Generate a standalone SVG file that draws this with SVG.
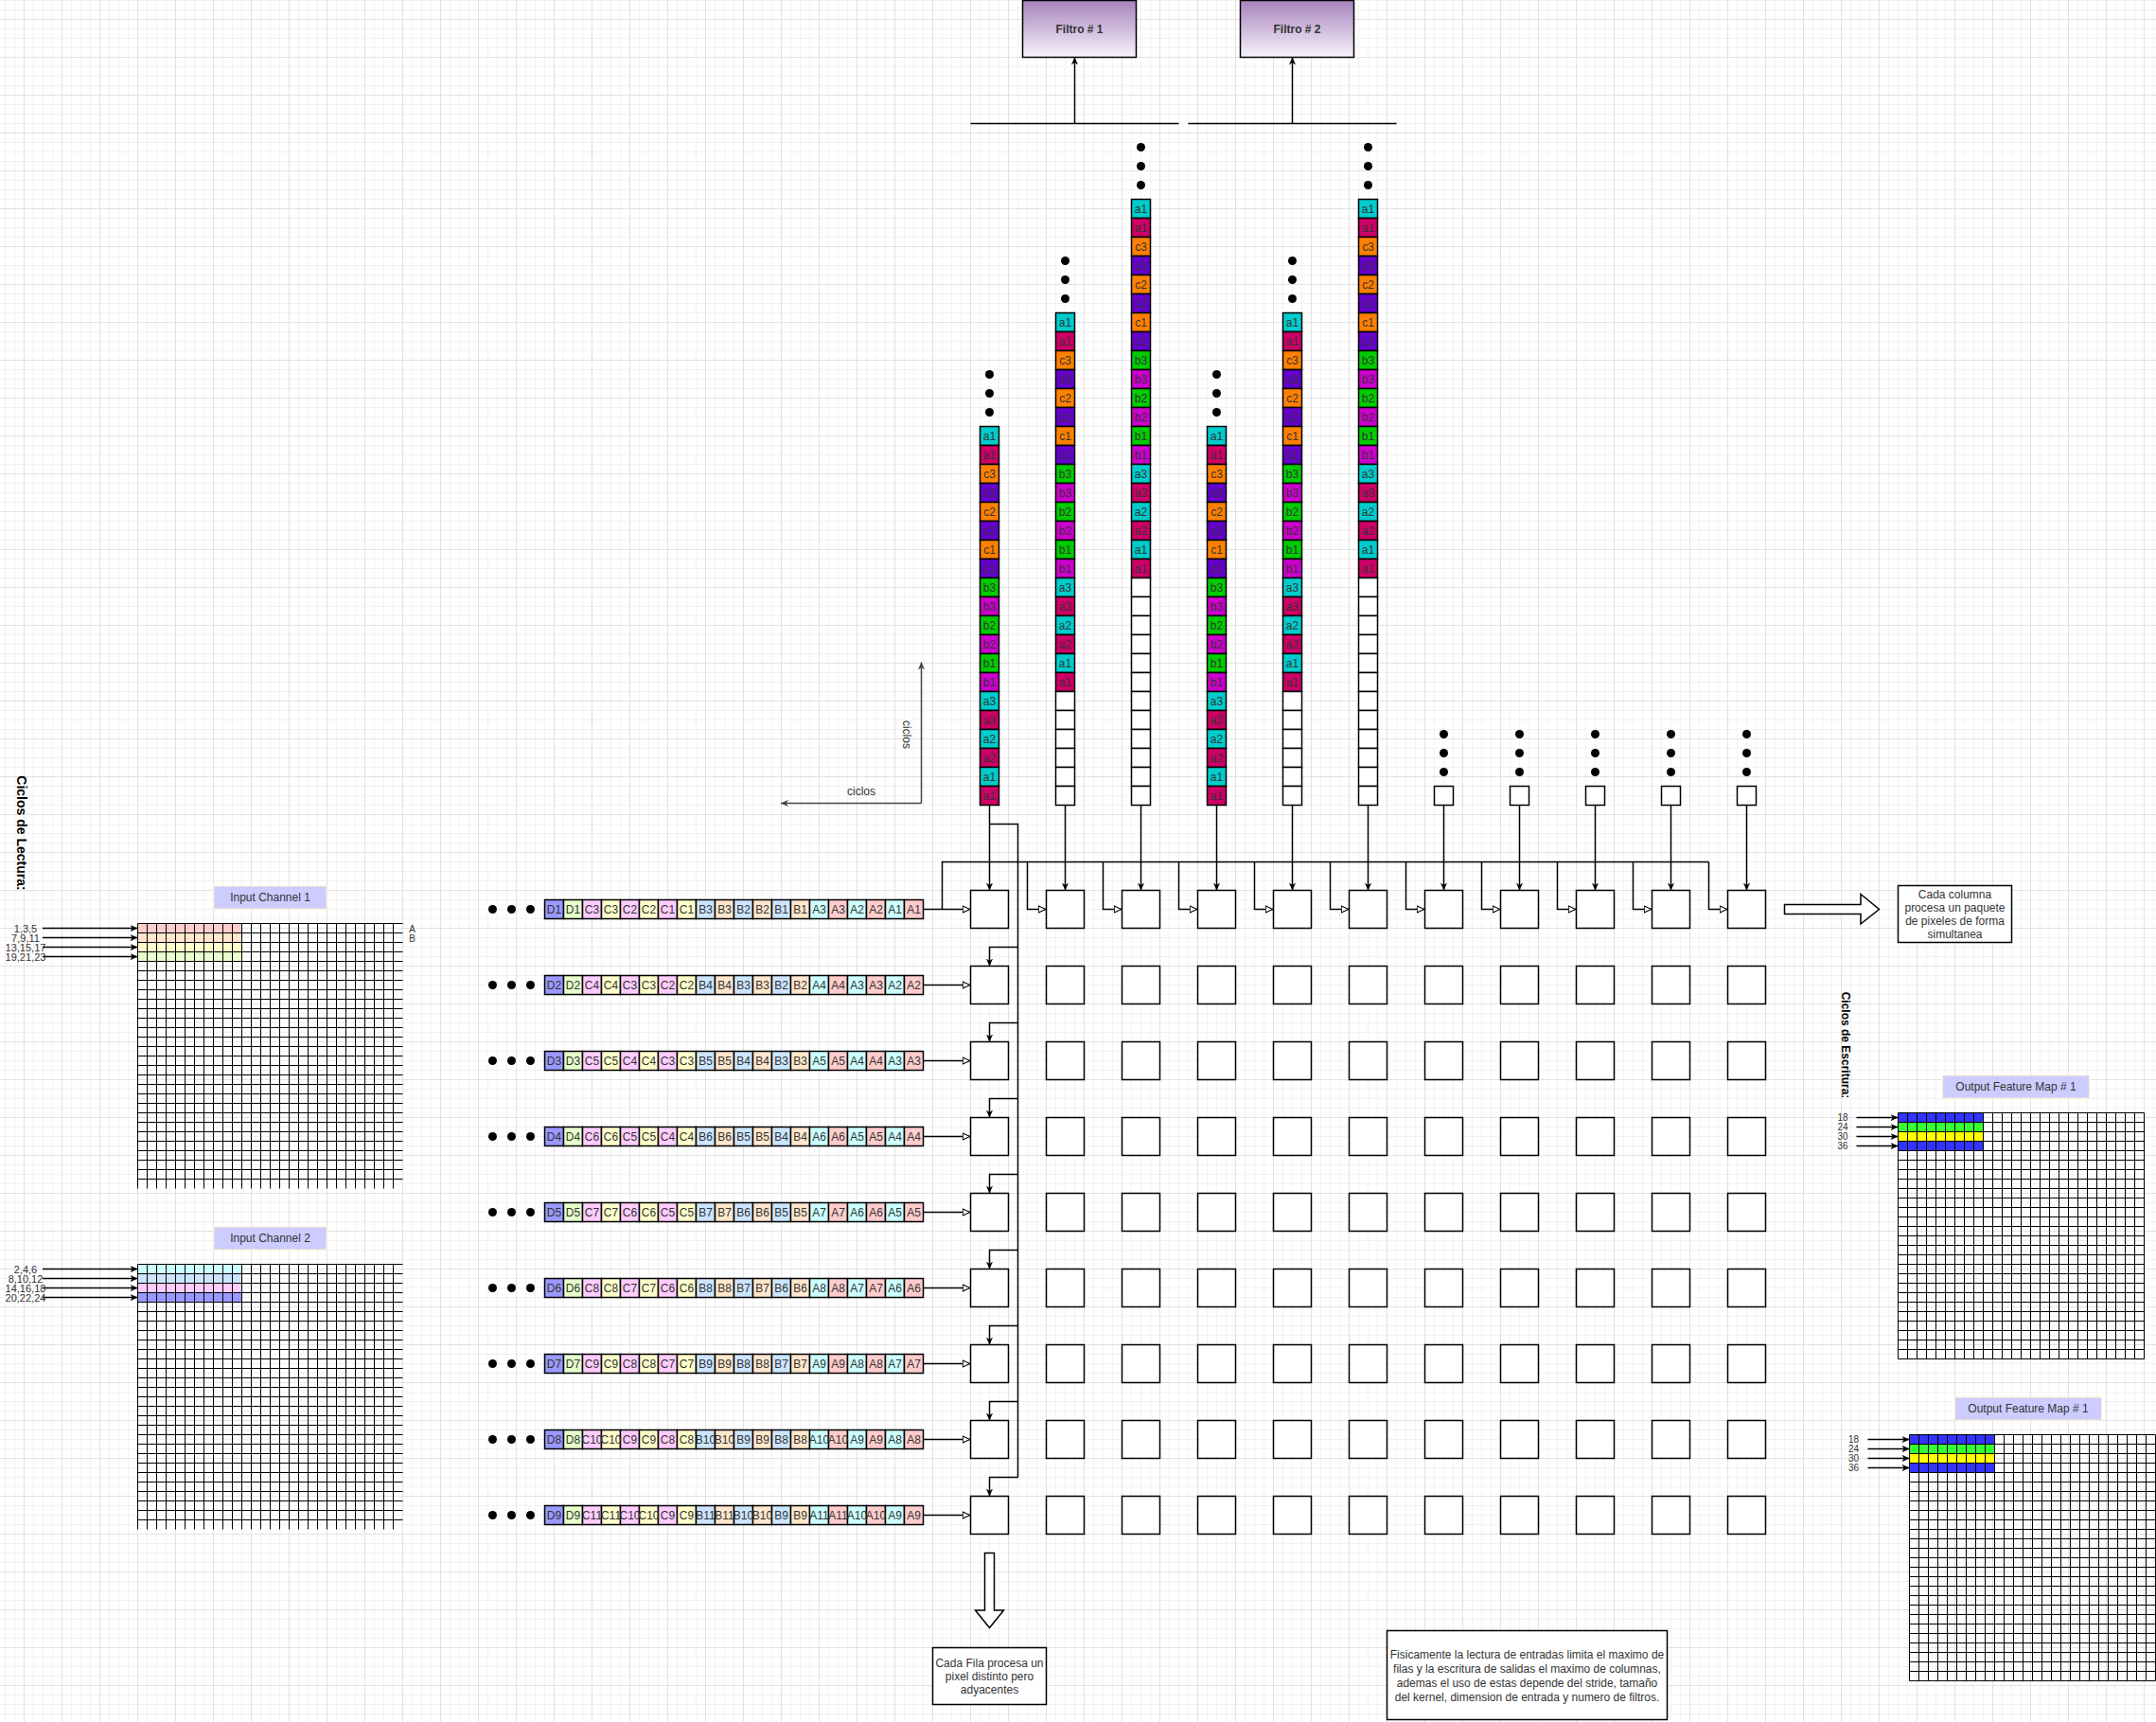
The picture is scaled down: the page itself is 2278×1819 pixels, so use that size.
<svg xmlns="http://www.w3.org/2000/svg" width="2278" height="1819" viewBox="0 0 2278 1819">
<style>
.t{font-family:"Liberation Sans",Arial,Helvetica,sans-serif;fill:#333333;stroke:none}
.c{font-size:12px;text-anchor:middle}
.s11{font-size:11px;text-anchor:middle}
.s10{font-size:10px;text-anchor:middle}
.b{font-weight:bold}
.sk{stroke:#000;stroke-width:1.5}
.pe{fill:#fff;stroke:#000;stroke-width:1.5}
.box{fill:#fff;stroke:#000;stroke-width:1.5}
.ln{fill:none;stroke:#000;stroke-width:1.5}
.gl{fill:none;stroke:#000;stroke-width:1}
.lbl{fill:#CCCCFF;stroke:#FFF2CC;stroke-width:1}
.cy{fill:#00CCCC}.rd{fill:#CC0066}.or{fill:#FF8000}.pu{fill:#6600CC}.gr{fill:#00CC00}.mg{fill:#CC00CC}
.rD{fill:#9999FF}.rG{fill:#E6FFCC}.rP{fill:#FFCCFF}.rY{fill:#FFFFCC}.rB{fill:#CCE5FF}.rO{fill:#FFE6CC}.rC{fill:#CCFFFF}.rR{fill:#FFCCCC}
</style>
<defs>
<pattern id="bg" width="40" height="40" patternUnits="userSpaceOnUse" x="25" y="20">
<path d="M10.5 0V40M20.5 0V40M30.5 0V40M0 10.5H40M0 20.5H40M0 30.5H40" stroke="#f2f2f2" stroke-width="1" fill="none"/>
<path d="M0.5 0V40M0 0.5H40" stroke="#e2e2e2" stroke-width="1" fill="none"/>
</pattern>
<linearGradient id="fg" x1="0" y1="0" x2="0" y2="1">
<stop offset="0" stop-color="#A682BE"/>
<stop offset="1" stop-color="#F8F4FA"/>
</linearGradient>
<marker id="ac" viewBox="0 0 10 10" refX="10" refY="5" markerWidth="8" markerHeight="8" markerUnits="userSpaceOnUse" orient="auto"><path d="M0 0.5L10 5L0 9.5L3 5Z" fill="#000"/></marker>
<marker id="ag" viewBox="0 0 10 10" refX="10" refY="5" markerWidth="8" markerHeight="8" markerUnits="userSpaceOnUse" orient="auto"><path d="M0 0.5L10 5L0 9.5L3 5Z" fill="#444"/></marker>
<marker id="ao" viewBox="0 0 10 10" refX="10" refY="5" markerWidth="9" markerHeight="9" markerUnits="userSpaceOnUse" orient="auto"><path d="M0.8 1L9.3 5L0.8 9Z" fill="#fff" stroke="#000" stroke-width="1.2"/></marker>
<g id="dots3"><circle cx="10" cy="-55" r="4.5"/><circle cx="10" cy="-35" r="4.5"/><circle cx="10" cy="-15" r="4.5"/></g>
<g id="seq">
<g class="sk">
<rect y="0" width="20" height="20" class="cy"/><rect y="20" width="20" height="20" class="rd"/>
<rect y="40" width="20" height="20" class="or"/><rect y="60" width="20" height="20" class="pu"/>
<rect y="80" width="20" height="20" class="or"/><rect y="100" width="20" height="20" class="pu"/>
<rect y="120" width="20" height="20" class="or"/><rect y="140" width="20" height="20" class="pu"/>
<rect y="160" width="20" height="20" class="gr"/><rect y="180" width="20" height="20" class="mg"/>
<rect y="200" width="20" height="20" class="gr"/><rect y="220" width="20" height="20" class="mg"/>
<rect y="240" width="20" height="20" class="gr"/><rect y="260" width="20" height="20" class="mg"/>
<rect y="280" width="20" height="20" class="cy"/><rect y="300" width="20" height="20" class="rd"/>
<rect y="320" width="20" height="20" class="cy"/><rect y="340" width="20" height="20" class="rd"/>
<rect y="360" width="20" height="20" class="cy"/><rect y="380" width="20" height="20" class="rd"/>
</g>
<text class="t c"><tspan x="10" y="14">a1</tspan><tspan x="10" y="34">a1</tspan><tspan x="10" y="54">c3</tspan><tspan x="10" y="74">c3</tspan><tspan x="10" y="94">c2</tspan><tspan x="10" y="114">c2</tspan><tspan x="10" y="134">c1</tspan><tspan x="10" y="154">c1</tspan><tspan x="10" y="174">b3</tspan><tspan x="10" y="194">b3</tspan><tspan x="10" y="214">b2</tspan><tspan x="10" y="234">b2</tspan><tspan x="10" y="254">b1</tspan><tspan x="10" y="274">b1</tspan><tspan x="10" y="294">a3</tspan><tspan x="10" y="314">a3</tspan><tspan x="10" y="334">a2</tspan><tspan x="10" y="354">a2</tspan><tspan x="10" y="374">a1</tspan><tspan x="10" y="394">a1</tspan></text>
</g>
<g id="e6" class="box"><rect y="0" width="20" height="20"/><rect y="20" width="20" height="20"/><rect y="40" width="20" height="20"/><rect y="60" width="20" height="20"/><rect y="80" width="20" height="20"/><rect y="100" width="20" height="20"/></g>
<g id="rowbg">
<circle cx="520.5" cy="10" r="4.5"/><circle cx="540.5" cy="10" r="4.5"/><circle cx="560.5" cy="10" r="4.5"/>
<g class="sk">
<rect x="575.5" width="20" height="20" class="rD"/><rect x="595.5" width="20" height="20" class="rG"/>
<rect x="615.5" width="20" height="20" class="rP"/><rect x="635.5" width="20" height="20" class="rY"/>
<rect x="655.5" width="20" height="20" class="rP"/><rect x="675.5" width="20" height="20" class="rY"/>
<rect x="695.5" width="20" height="20" class="rP"/><rect x="715.5" width="20" height="20" class="rY"/>
<rect x="735.5" width="20" height="20" class="rB"/><rect x="755.5" width="20" height="20" class="rO"/>
<rect x="775.5" width="20" height="20" class="rB"/><rect x="795.5" width="20" height="20" class="rO"/>
<rect x="815.5" width="20" height="20" class="rB"/><rect x="835.5" width="20" height="20" class="rO"/>
<rect x="855.5" width="20" height="20" class="rC"/><rect x="875.5" width="20" height="20" class="rR"/>
<rect x="895.5" width="20" height="20" class="rC"/><rect x="915.5" width="20" height="20" class="rR"/>
<rect x="935.5" width="20" height="20" class="rC"/><rect x="955.5" width="20" height="20" class="rR"/>
</g>
</g>
<g id="perow" class="pe">
<rect x="1025.5" width="40" height="40"/><rect x="1105.5" width="40" height="40"/><rect x="1185.5" width="40" height="40"/><rect x="1265.5" width="40" height="40"/><rect x="1345.5" width="40" height="40"/><rect x="1425.5" width="40" height="40"/><rect x="1505.5" width="40" height="40"/><rect x="1585.5" width="40" height="40"/><rect x="1665.5" width="40" height="40"/><rect x="1745.5" width="40" height="40"/><rect x="1825.5" width="40" height="40"/>
</g>
<path id="g28" class="gl" d="M0.5 0.5v280m10-280v280m10-280v280m10-280v280m10-280v280m10-280v280m10-280v280m10-280v280m10-280v280m10-280v280m10-280v280m10-280v280m10-280v280m10-280v280m10-280v280m10-280v280m10-280v280m10-280v280m10-280v280m10-280v280m10-280v280m10-280v280m10-280v280m10-280v280m10-280v280m10-280v280m10-280v280m10-280v280M0.5 0.5h280m-280 10h280m-280 10h280m-280 10h280m-280 10h280m-280 10h280m-280 10h280m-280 10h280m-280 10h280m-280 10h280m-280 10h280m-280 10h280m-280 10h280m-280 10h280m-280 10h280m-280 10h280m-280 10h280m-280 10h280m-280 10h280m-280 10h280m-280 10h280m-280 10h280m-280 10h280m-280 10h280m-280 10h280m-280 10h280m-280 10h280m-280 10h280"/>
<path id="g26" class="gl" d="M0.5 0.5v260m10-260v260m10-260v260m10-260v260m10-260v260m10-260v260m10-260v260m10-260v260m10-260v260m10-260v260m10-260v260m10-260v260m10-260v260m10-260v260m10-260v260m10-260v260m10-260v260m10-260v260m10-260v260m10-260v260m10-260v260m10-260v260m10-260v260m10-260v260m10-260v260m10-260v260m10-260v260M0.5 0.5h260m-260 10h260m-260 10h260m-260 10h260m-260 10h260m-260 10h260m-260 10h260m-260 10h260m-260 10h260m-260 10h260m-260 10h260m-260 10h260m-260 10h260m-260 10h260m-260 10h260m-260 10h260m-260 10h260m-260 10h260m-260 10h260m-260 10h260m-260 10h260m-260 10h260m-260 10h260m-260 10h260m-260 10h260m-260 10h260m-260 10h260"/>
</defs>

<rect width="2278" height="1819" fill="#ffffff"/>
<rect width="2278" height="1819" fill="url(#bg)"/>

<g id="filtro-1">
<rect x="1080.5" y="0.5" width="120" height="60" fill="url(#fg)" stroke="#000" stroke-width="1.5"/>
<text class="t c b" x="1140.5" y="35">Filtro # 1</text>
</g>
<g id="filtro-2">
<rect x="1310.5" y="0.5" width="120" height="60" fill="url(#fg)" stroke="#000" stroke-width="1.5"/>
<text class="t c b" x="1370.5" y="35">Filtro # 2</text>
</g>

<g id="stack-1" transform="translate(1035.5,450.5)"><use href="#dots3"/><use href="#seq"/></g>
<g id="stack-2" transform="translate(1115.5,330.5)"><use href="#dots3"/><use href="#seq"/><use href="#e6" y="400"/></g>
<g id="stack-3" transform="translate(1195.5,210.5)"><use href="#dots3"/><use href="#seq"/><use href="#e6" y="400"/><use href="#e6" y="520"/></g>
<g id="stack-4" transform="translate(1275.5,450.5)"><use href="#dots3"/><use href="#seq"/></g>
<g id="stack-5" transform="translate(1355.5,330.5)"><use href="#dots3"/><use href="#seq"/><use href="#e6" y="400"/></g>
<g id="stack-6" transform="translate(1435.5,210.5)"><use href="#dots3"/><use href="#seq"/><use href="#e6" y="400"/><use href="#e6" y="520"/></g>
<g id="stack-7" transform="translate(1515.5,830.5)"><use href="#dots3"/><rect class="box" width="20" height="20"/></g>
<g id="stack-8" transform="translate(1595.5,830.5)"><use href="#dots3"/><rect class="box" width="20" height="20"/></g>
<g id="stack-9" transform="translate(1675.5,830.5)"><use href="#dots3"/><rect class="box" width="20" height="20"/></g>
<g id="stack-10" transform="translate(1755.5,830.5)"><use href="#dots3"/><rect class="box" width="20" height="20"/></g>
<g id="stack-11" transform="translate(1835.5,830.5)"><use href="#dots3"/><rect class="box" width="20" height="20"/></g>

<g id="connectors" class="ln">
<path d="M1025.5 130.5H1245.5M1255.5 130.5H1475.5"/>
<path d="M1135.5 130.5V60.5" marker-end="url(#ac)"/>
<path d="M1365.5 130.5V60.5" marker-end="url(#ac)"/>
<path d="M1045.5 850.5V940.5" marker-end="url(#ac)"/>
<path d="M1125.5 850.5V940.5" marker-end="url(#ac)"/>
<path d="M1205.5 850.5V940.5" marker-end="url(#ac)"/>
<path d="M1285.5 850.5V940.5" marker-end="url(#ac)"/>
<path d="M1365.5 850.5V940.5" marker-end="url(#ac)"/>
<path d="M1445.5 850.5V940.5" marker-end="url(#ac)"/>
<path d="M1525.5 850.5V940.5" marker-end="url(#ac)"/>
<path d="M1605.5 850.5V940.5" marker-end="url(#ac)"/>
<path d="M1685.5 850.5V940.5" marker-end="url(#ac)"/>
<path d="M1765.5 850.5V940.5" marker-end="url(#ac)"/>
<path d="M1845.5 850.5V940.5" marker-end="url(#ac)"/>
<path d="M1045.5 870.5H1075.5V1560.5"/>
<path d="M1075.5 1000.5H1045.5V1020.5" marker-end="url(#ac)"/>
<path d="M1075.5 1080.5H1045.5V1100.5" marker-end="url(#ac)"/>
<path d="M1075.5 1160.5H1045.5V1180.5" marker-end="url(#ac)"/>
<path d="M1075.5 1240.5H1045.5V1260.5" marker-end="url(#ac)"/>
<path d="M1075.5 1320.5H1045.5V1340.5" marker-end="url(#ac)"/>
<path d="M1075.5 1400.5H1045.5V1420.5" marker-end="url(#ac)"/>
<path d="M1075.5 1480.5H1045.5V1500.5" marker-end="url(#ac)"/>
<path d="M1075.5 1560.5H1045.5V1580.5" marker-end="url(#ac)"/>
<path d="M975.5 960.5H1025.5" marker-end="url(#ao)"/>
<path d="M975.5 1040.5H1025.5" marker-end="url(#ao)"/>
<path d="M975.5 1120.5H1025.5" marker-end="url(#ao)"/>
<path d="M975.5 1200.5H1025.5" marker-end="url(#ao)"/>
<path d="M975.5 1280.5H1025.5" marker-end="url(#ao)"/>
<path d="M975.5 1360.5H1025.5" marker-end="url(#ao)"/>
<path d="M975.5 1440.5H1025.5" marker-end="url(#ao)"/>
<path d="M975.5 1520.5H1025.5" marker-end="url(#ao)"/>
<path d="M975.5 1600.5H1025.5" marker-end="url(#ao)"/>
<path d="M995.5 960.5V910.5H1805.5"/>
<path d="M1085.5 910.5V960.5H1105.5" marker-end="url(#ao)"/>
<path d="M1165.5 910.5V960.5H1185.5" marker-end="url(#ao)"/>
<path d="M1245.5 910.5V960.5H1265.5" marker-end="url(#ao)"/>
<path d="M1325.5 910.5V960.5H1345.5" marker-end="url(#ao)"/>
<path d="M1405.5 910.5V960.5H1425.5" marker-end="url(#ao)"/>
<path d="M1485.5 910.5V960.5H1505.5" marker-end="url(#ao)"/>
<path d="M1565.5 910.5V960.5H1585.5" marker-end="url(#ao)"/>
<path d="M1645.5 910.5V960.5H1665.5" marker-end="url(#ao)"/>
<path d="M1725.5 910.5V960.5H1745.5" marker-end="url(#ao)"/>
<path d="M1805.5 910.5V960.5H1825.5" marker-end="url(#ao)"/>
<path d="M973.5 848.5V699.5" stroke="#444" marker-end="url(#ag)"/>
<path d="M973.5 848.5H825" stroke="#444" marker-end="url(#ag)"/>
<path d="M45 980.5H145.5" marker-end="url(#ac)"/>
<path d="M45 990.5H145.5" marker-end="url(#ac)"/>
<path d="M45 1000.5H145.5" marker-end="url(#ac)"/>
<path d="M45 1010.5H145.5" marker-end="url(#ac)"/>
<path d="M45 1340.5H145.5" marker-end="url(#ac)"/>
<path d="M45 1350.5H145.5" marker-end="url(#ac)"/>
<path d="M45 1360.5H145.5" marker-end="url(#ac)"/>
<path d="M45 1370.5H145.5" marker-end="url(#ac)"/>
<path d="M1961.5 1180.5H2005.5" marker-end="url(#ac)"/>
<path d="M1961.5 1190.5H2005.5" marker-end="url(#ac)"/>
<path d="M1961.5 1200.5H2005.5" marker-end="url(#ac)"/>
<path d="M1961.5 1210.5H2005.5" marker-end="url(#ac)"/>
<path d="M1973.5 1520.5H2017.5" marker-end="url(#ac)"/>
<path d="M1973.5 1530.5H2017.5" marker-end="url(#ac)"/>
<path d="M1973.5 1540.5H2017.5" marker-end="url(#ac)"/>
<path d="M1973.5 1550.5H2017.5" marker-end="url(#ac)"/>
</g>

<text class="t c" x="910" y="840">ciclos</text>
<text class="t c" transform="translate(958,776) rotate(90)" y="4">ciclos</text>

<g id="row-1" transform="translate(0,950.5)"><use href="#rowbg"/><text class="t c" y="14"><tspan x="585.5">D1</tspan><tspan x="605.5">D1</tspan><tspan x="625.5">C3</tspan><tspan x="645.5">C3</tspan><tspan x="665.5">C2</tspan><tspan x="685.5">C2</tspan><tspan x="705.5">C1</tspan><tspan x="725.5">C1</tspan><tspan x="745.5">B3</tspan><tspan x="765.5">B3</tspan><tspan x="785.5">B2</tspan><tspan x="805.5">B2</tspan><tspan x="825.5">B1</tspan><tspan x="845.5">B1</tspan><tspan x="865.5">A3</tspan><tspan x="885.5">A3</tspan><tspan x="905.5">A2</tspan><tspan x="925.5">A2</tspan><tspan x="945.5">A1</tspan><tspan x="965.5">A1</tspan></text></g>
<g id="row-2" transform="translate(0,1030.5)"><use href="#rowbg"/><text class="t c" y="14"><tspan x="585.5">D2</tspan><tspan x="605.5">D2</tspan><tspan x="625.5">C4</tspan><tspan x="645.5">C4</tspan><tspan x="665.5">C3</tspan><tspan x="685.5">C3</tspan><tspan x="705.5">C2</tspan><tspan x="725.5">C2</tspan><tspan x="745.5">B4</tspan><tspan x="765.5">B4</tspan><tspan x="785.5">B3</tspan><tspan x="805.5">B3</tspan><tspan x="825.5">B2</tspan><tspan x="845.5">B2</tspan><tspan x="865.5">A4</tspan><tspan x="885.5">A4</tspan><tspan x="905.5">A3</tspan><tspan x="925.5">A3</tspan><tspan x="945.5">A2</tspan><tspan x="965.5">A2</tspan></text></g>
<g id="row-3" transform="translate(0,1110.5)"><use href="#rowbg"/><text class="t c" y="14"><tspan x="585.5">D3</tspan><tspan x="605.5">D3</tspan><tspan x="625.5">C5</tspan><tspan x="645.5">C5</tspan><tspan x="665.5">C4</tspan><tspan x="685.5">C4</tspan><tspan x="705.5">C3</tspan><tspan x="725.5">C3</tspan><tspan x="745.5">B5</tspan><tspan x="765.5">B5</tspan><tspan x="785.5">B4</tspan><tspan x="805.5">B4</tspan><tspan x="825.5">B3</tspan><tspan x="845.5">B3</tspan><tspan x="865.5">A5</tspan><tspan x="885.5">A5</tspan><tspan x="905.5">A4</tspan><tspan x="925.5">A4</tspan><tspan x="945.5">A3</tspan><tspan x="965.5">A3</tspan></text></g>
<g id="row-4" transform="translate(0,1190.5)"><use href="#rowbg"/><text class="t c" y="14"><tspan x="585.5">D4</tspan><tspan x="605.5">D4</tspan><tspan x="625.5">C6</tspan><tspan x="645.5">C6</tspan><tspan x="665.5">C5</tspan><tspan x="685.5">C5</tspan><tspan x="705.5">C4</tspan><tspan x="725.5">C4</tspan><tspan x="745.5">B6</tspan><tspan x="765.5">B6</tspan><tspan x="785.5">B5</tspan><tspan x="805.5">B5</tspan><tspan x="825.5">B4</tspan><tspan x="845.5">B4</tspan><tspan x="865.5">A6</tspan><tspan x="885.5">A6</tspan><tspan x="905.5">A5</tspan><tspan x="925.5">A5</tspan><tspan x="945.5">A4</tspan><tspan x="965.5">A4</tspan></text></g>
<g id="row-5" transform="translate(0,1270.5)"><use href="#rowbg"/><text class="t c" y="14"><tspan x="585.5">D5</tspan><tspan x="605.5">D5</tspan><tspan x="625.5">C7</tspan><tspan x="645.5">C7</tspan><tspan x="665.5">C6</tspan><tspan x="685.5">C6</tspan><tspan x="705.5">C5</tspan><tspan x="725.5">C5</tspan><tspan x="745.5">B7</tspan><tspan x="765.5">B7</tspan><tspan x="785.5">B6</tspan><tspan x="805.5">B6</tspan><tspan x="825.5">B5</tspan><tspan x="845.5">B5</tspan><tspan x="865.5">A7</tspan><tspan x="885.5">A7</tspan><tspan x="905.5">A6</tspan><tspan x="925.5">A6</tspan><tspan x="945.5">A5</tspan><tspan x="965.5">A5</tspan></text></g>
<g id="row-6" transform="translate(0,1350.5)"><use href="#rowbg"/><text class="t c" y="14"><tspan x="585.5">D6</tspan><tspan x="605.5">D6</tspan><tspan x="625.5">C8</tspan><tspan x="645.5">C8</tspan><tspan x="665.5">C7</tspan><tspan x="685.5">C7</tspan><tspan x="705.5">C6</tspan><tspan x="725.5">C6</tspan><tspan x="745.5">B8</tspan><tspan x="765.5">B8</tspan><tspan x="785.5">B7</tspan><tspan x="805.5">B7</tspan><tspan x="825.5">B6</tspan><tspan x="845.5">B6</tspan><tspan x="865.5">A8</tspan><tspan x="885.5">A8</tspan><tspan x="905.5">A7</tspan><tspan x="925.5">A7</tspan><tspan x="945.5">A6</tspan><tspan x="965.5">A6</tspan></text></g>
<g id="row-7" transform="translate(0,1430.5)"><use href="#rowbg"/><text class="t c" y="14"><tspan x="585.5">D7</tspan><tspan x="605.5">D7</tspan><tspan x="625.5">C9</tspan><tspan x="645.5">C9</tspan><tspan x="665.5">C8</tspan><tspan x="685.5">C8</tspan><tspan x="705.5">C7</tspan><tspan x="725.5">C7</tspan><tspan x="745.5">B9</tspan><tspan x="765.5">B9</tspan><tspan x="785.5">B8</tspan><tspan x="805.5">B8</tspan><tspan x="825.5">B7</tspan><tspan x="845.5">B7</tspan><tspan x="865.5">A9</tspan><tspan x="885.5">A9</tspan><tspan x="905.5">A8</tspan><tspan x="925.5">A8</tspan><tspan x="945.5">A7</tspan><tspan x="965.5">A7</tspan></text></g>
<g id="row-8" transform="translate(0,1510.5)"><use href="#rowbg"/><text class="t c" y="14"><tspan x="585.5">D8</tspan><tspan x="605.5">D8</tspan><tspan x="625.5">C10</tspan><tspan x="645.5">C10</tspan><tspan x="665.5">C9</tspan><tspan x="685.5">C9</tspan><tspan x="705.5">C8</tspan><tspan x="725.5">C8</tspan><tspan x="745.5">B10</tspan><tspan x="765.5">B10</tspan><tspan x="785.5">B9</tspan><tspan x="805.5">B9</tspan><tspan x="825.5">B8</tspan><tspan x="845.5">B8</tspan><tspan x="865.5">A10</tspan><tspan x="885.5">A10</tspan><tspan x="905.5">A9</tspan><tspan x="925.5">A9</tspan><tspan x="945.5">A8</tspan><tspan x="965.5">A8</tspan></text></g>
<g id="row-9" transform="translate(0,1590.5)"><use href="#rowbg"/><text class="t c" y="14"><tspan x="585.5">D9</tspan><tspan x="605.5">D9</tspan><tspan x="625.5">C11</tspan><tspan x="645.5">C11</tspan><tspan x="665.5">C10</tspan><tspan x="685.5">C10</tspan><tspan x="705.5">C9</tspan><tspan x="725.5">C9</tspan><tspan x="745.5">B11</tspan><tspan x="765.5">B11</tspan><tspan x="785.5">B10</tspan><tspan x="805.5">B10</tspan><tspan x="825.5">B9</tspan><tspan x="845.5">B9</tspan><tspan x="865.5">A11</tspan><tspan x="885.5">A11</tspan><tspan x="905.5">A10</tspan><tspan x="925.5">A10</tspan><tspan x="945.5">A9</tspan><tspan x="965.5">A9</tspan></text></g>

<g id="pe-grid">
<use id="pe-row-1" href="#perow" y="940.5"/>
<use id="pe-row-2" href="#perow" y="1020.5"/>
<use id="pe-row-3" href="#perow" y="1100.5"/>
<use id="pe-row-4" href="#perow" y="1180.5"/>
<use id="pe-row-5" href="#perow" y="1260.5"/>
<use id="pe-row-6" href="#perow" y="1340.5"/>
<use id="pe-row-7" href="#perow" y="1420.5"/>
<use id="pe-row-8" href="#perow" y="1500.5"/>
<use id="pe-row-9" href="#perow" y="1580.5"/>
</g>

<g id="arrow-right">
<path d="M1885.5 955.5H1966V944.5L1985.5 960.5L1966 976V965.5H1885.5Z" class="box"/>
</g>
<g id="note-columna">
<rect x="2005.5" y="935.5" width="120" height="60" class="box"/>
<text class="t c"><tspan x="2065.5" y="948.5">Cada columna</tspan><tspan x="2065.5" y="962.5">procesa un paquete</tspan><tspan x="2065.5" y="976.5">de pixeles de forma</tspan><tspan x="2065.5" y="990.5">simultanea</tspan></text>
</g>
<g id="arrow-down">
<path d="M1040.5 1640.5H1050.5V1701H1060.5L1045.5 1719.5L1030.5 1701H1040.5Z" class="box"/>
</g>
<g id="note-fila">
<rect x="985.5" y="1740.5" width="120" height="60" class="box"/>
<text class="t c"><tspan x="1045.5" y="1760.5">Cada Fila procesa un</tspan><tspan x="1045.5" y="1774.5">pixel distinto pero</tspan><tspan x="1045.5" y="1788.5">adyacentes</tspan></text>
</g>
<g id="note-fisica">
<rect x="1465.5" y="1722.5" width="296" height="94" class="box"/>
<text class="t c"><tspan x="1613.5" y="1751.5">Fisicamente la lectura de entradas limita el maximo de</tspan><tspan x="1613.5" y="1766.5">filas y la escritura de salidas el maximo de columnas,</tspan><tspan x="1613.5" y="1781.5">ademas el uso de estas depende del stride, tamaño</tspan><tspan x="1613.5" y="1796.5">del kernel, dimension de entrada y numero de filtros.</tspan></text>
</g>

<text class="t b" font-size="14" style="fill:#000;text-anchor:middle" transform="translate(23,880) rotate(90)" y="5">Ciclos de Lectura:</text>
<text class="t b" font-size="12" style="fill:#000;text-anchor:middle" transform="translate(1949.5,1104) rotate(90)" y="4">Ciclos de Escritura:</text>

<g id="input-channel-1">
<rect x="226" y="936" width="119" height="24" class="lbl"/>
<text class="t c" x="285.5" y="952">Input Channel 1</text>
<rect x="145.5" y="975.5" width="110" height="10" class="rR"/>
<rect x="145.5" y="985.5" width="110" height="10" class="rO"/>
<rect x="145.5" y="995.5" width="110" height="10" class="rY"/>
<rect x="145.5" y="1005.5" width="110" height="10" class="rG"/>
<use href="#g28" x="145" y="975"/>
<text class="t s11"><tspan x="27" y="984.5">1,3,5</tspan><tspan x="27" y="994.5">7,9,11</tspan><tspan x="27" y="1004.5">13,15,17</tspan><tspan x="27" y="1014.5">19,21,23</tspan></text>
<text class="t s10"><tspan x="435.5" y="985">A</tspan><tspan x="435.5" y="995">B</tspan></text>
</g>

<g id="input-channel-2">
<rect x="226" y="1296" width="119" height="24" class="lbl"/>
<text class="t c" x="285.5" y="1312">Input Channel 2</text>
<rect x="145.5" y="1335.5" width="110" height="10" class="rC"/>
<rect x="145.5" y="1345.5" width="110" height="10" class="rB"/>
<rect x="145.5" y="1355.5" width="110" height="10" class="rP"/>
<rect x="145.5" y="1365.5" width="110" height="10" class="rD"/>
<use href="#g28" x="145" y="1335"/>
<text class="t s11"><tspan x="27" y="1344.5">2,4,6</tspan><tspan x="27" y="1354.5">8,10,12</tspan><tspan x="27" y="1364.5">14,16,18</tspan><tspan x="27" y="1374.5">20,22,24</tspan></text>
</g>

<g id="output-map-1">
<rect x="2052.5" y="1136" width="155" height="24" class="lbl"/>
<text class="t c" x="2130" y="1152">Output Feature Map # 1</text>
<rect x="2005.5" y="1175.5" width="90" height="10" fill="#3333FF"/>
<rect x="2005.5" y="1185.5" width="90" height="10" fill="#33FF33"/>
<rect x="2005.5" y="1195.5" width="90" height="10" fill="#FFFF00"/>
<rect x="2005.5" y="1205.5" width="90" height="10" fill="#3333FF"/>
<use href="#g26" x="2005" y="1175"/>
<text class="t s10"><tspan x="1947" y="1184">18</tspan><tspan x="1947" y="1194">24</tspan><tspan x="1947" y="1204">30</tspan><tspan x="1947" y="1214">36</tspan></text>
</g>

<g id="output-map-2">
<rect x="2065.5" y="1476" width="155" height="24" class="lbl"/>
<text class="t c" x="2143" y="1492">Output Feature Map # 1</text>
<rect x="2017.5" y="1515.5" width="90" height="10" fill="#3333FF"/>
<rect x="2017.5" y="1525.5" width="90" height="10" fill="#33FF33"/>
<rect x="2017.5" y="1535.5" width="90" height="10" fill="#FFFF00"/>
<rect x="2017.5" y="1545.5" width="90" height="10" fill="#3333FF"/>
<use href="#g26" x="2017" y="1515"/>
<text class="t s10"><tspan x="1958.5" y="1524">18</tspan><tspan x="1958.5" y="1534">24</tspan><tspan x="1958.5" y="1544">30</tspan><tspan x="1958.5" y="1554">36</tspan></text>
</g>
</svg>
